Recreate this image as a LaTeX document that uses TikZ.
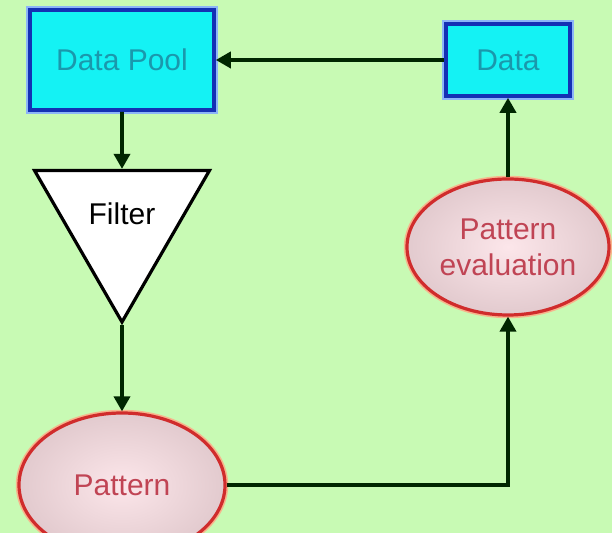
\documentclass[tikz,border=0pt]{standalone}
\usepackage{fontspec}
\setmainfont{Liberation Sans}
\usetikzlibrary{arrows.meta,shapes.geometric}
\definecolor{bggreen}{HTML}{C8FAB4}
\definecolor{boxcyan}{HTML}{14F2F4}
\definecolor{boxblue}{HTML}{1430B4}
\definecolor{boxglow}{HTML}{8CB4F8}
\definecolor{boxtext}{HTML}{1A98AC}
\definecolor{ovalred}{HTML}{D02C2C}
\definecolor{ovalglow}{HTML}{F8B48C}
\definecolor{ovalfill}{HTML}{FCE6EA}
\definecolor{ovaledge}{HTML}{E2CACE}
\definecolor{ovaltext}{HTML}{C04454}

\begin{document}
\begin{tikzpicture}[
		x=0.5pt, y=-0.5pt,
		>={Triangle[length=7.5pt,width=8pt]},
		font=\fontsize{15}{18}\selectfont,
		store/.style={draw=boxblue, line width=1.8pt, fill=boxcyan, text=boxtext,
			preaction={draw=boxglow, line width=4pt}, inner sep=0pt},
		oval/.style={ellipse, draw=ovalred, line width=1.6pt, inner sep=0pt,
			inner color=ovalfill, outer color=ovaledge, text=ovaltext, align=center,
			preaction={draw=ovalglow, line width=3.2pt}},
		sieve/.style={regular polygon, regular polygon sides=3, shape border rotate=180,
			draw=black, line width=1.6pt, fill=white, inner sep=0pt},
		flow/.style={->, line width=1.8pt, draw=black!85!green}
		]
		
		% --------------------------------------------------
		% Background
		% --------------------------------------------------
		\fill[bggreen] (0,0) rectangle (612,533);
		\useasboundingbox (0,0) rectangle (612,533);
		
		% --------------------------------------------------
		% Nodes
		% --------------------------------------------------
		\node[store, minimum width=92pt, minimum height=50pt] (pool) at (122,60) {Data Pool};
		\node[store, minimum width=62pt, minimum height=36pt] (data) at (508,60) {Data};
		
		\node[sieve, minimum size=101pt] (filter) at (122,221) {\raisebox{7pt}{Filter}};
		
		\node[oval, minimum width=103pt, minimum height=72pt] (pattern) at (122,485) {Pattern};
		\node[oval, minimum width=101pt, minimum height=68pt] (eval) at (508,247) {Pattern\\evaluation};
		
		% --------------------------------------------------
		% Connecting arrows
		% --------------------------------------------------
		\draw[flow] (data.west) -- (pool.east);
		\draw[flow] (pool.south) -- (filter.north);
		\draw[flow] (filter.south) -- (pattern.north);
		\draw[flow] (pattern.east) -| (eval.south);
		\draw[flow] (eval.north) -- (data.south);
		
	\end{tikzpicture}
\end{document}
